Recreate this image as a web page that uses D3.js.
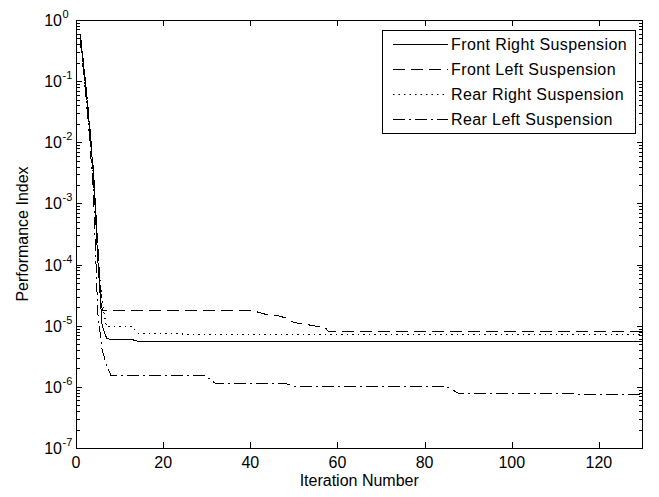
<!DOCTYPE html>
<html>
<head>
<meta charset="utf-8">
<script src="https://cdn.jsdelivr.net/npm/d3@7"></script>
<style>
  body { margin: 0; background: #fff; }
  svg { display: block; font-family: "Liberation Sans", Arial, sans-serif; }
</style>
</head>
<body>
<svg width="659" height="497"></svg>
<script>
// [iteration, performance index] breakpoints
const frontRight = [[1, 0.55], [2, 0.12], [3, 0.022], [4, 3e-3], [5, 1.2e-4], [6, 1.0e-5],
  [7, 6.3e-6], [8, 5.9e-6], [13, 5.9e-6], [14, 5.6e-6], [130, 5.6e-6]];
const frontLeft = [[1, 0.6], [2, 0.13], [3, 0.025], [4, 3.5e-3], [5, 2e-4], [6, 1.8e-5],
  [40, 1.8e-5], [42, 1.65e-5], [44, 1.5e-5], [46, 1.48e-5], [48, 1.35e-5], [50, 1.12e-5],
  [53, 1.07e-5], [54, 1.0e-5], [57, 9.6e-6], [58, 8.0e-6], [130, 8.0e-6]];
const rearRight = [[1, 0.5], [2, 0.1], [3, 0.02], [4, 2.5e-3], [5, 1.5e-4], [6, 2.4e-5],
  [7, 9.6e-6], [13, 9.6e-6], [14, 7.5e-6], [24, 7.5e-6], [25, 7.1e-6], [130, 7.1e-6]];
const rearLeft = [[1, 0.45], [2, 0.09], [3, 0.015], [4, 1.5e-3], [5, 1.6e-5], [6, 4e-6],
  [7, 2.3e-6], [8, 1.56e-6], [29, 1.56e-6], [30, 1.45e-6], [32, 1.14e-6], [48, 1.14e-6],
  [50, 1.03e-6], [51, 1.0e-6], [85, 1.0e-6], [86, 9.3e-7], [88, 7.7e-7], [130, 7.6e-7]];

const seriesNames = ['Front Right Suspension', 'Front Left Suspension', 'Rear Right Suspension', 'Rear Left Suspension'];
const dashes = [null, '12,6', '1.5,4', '12,4,2,4'];
const xTicks = [0, 20, 40, 60, 80, 100, 120];
const yExps = [0, -1, -2, -3, -4, -5, -6, -7];

const svg = d3.select('svg');
const m = { left: 76, right: 642.5, top: 20, bottom: 448 };

const x = d3.scaleLinear().domain([0, 130]).range([m.left, m.right]);
const y = d3.scaleLog().domain([1e-7, 1]).range([m.bottom, m.top]);

const decades = yExps.map(e => Math.pow(10, e));
const minors = [];
for (let e = -7; e < 0; e++) {
  for (let k = 2; k <= 9; k++) minors.push(k * Math.pow(10, e));
}

function tidy(g) {
  g.select('.domain').remove();
  g.selectAll('line').attr('stroke', '#000').attr('shape-rendering', 'crispEdges');
  g.selectAll('text').remove();
}

// inward ticks on all four sides
svg.append('g').attr('transform', `translate(0,${m.bottom})`)
  .call(d3.axisTop(x).tickValues(xTicks).tickSize(6)).call(tidy);
svg.append('g').attr('transform', `translate(0,${m.top})`)
  .call(d3.axisBottom(x).tickValues(xTicks).tickSize(6)).call(tidy);
svg.append('g').attr('transform', `translate(${m.left},0)`)
  .call(d3.axisRight(y).tickValues(decades).tickSize(6)).call(tidy);
svg.append('g').attr('transform', `translate(${m.left},0)`)
  .call(d3.axisRight(y).tickValues(minors).tickSize(4)).call(tidy);
svg.append('g').attr('transform', `translate(${m.right},0)`)
  .call(d3.axisLeft(y).tickValues(decades).tickSize(6)).call(tidy);
svg.append('g').attr('transform', `translate(${m.right},0)`)
  .call(d3.axisLeft(y).tickValues(minors).tickSize(4)).call(tidy);

svg.append('rect')
  .attr('x', m.left).attr('y', m.top)
  .attr('width', m.right - m.left).attr('height', m.bottom - m.top)
  .attr('fill', 'none').attr('stroke', '#000').attr('shape-rendering', 'crispEdges');

// tick labels
svg.selectAll('.xl')
  .data(xTicks)
  .enter()
  .append('text')
  .attr('x', d => x(d))
  .attr('y', 468)
  .attr('text-anchor', 'middle')
  .style('font-size', '16px')
  .text(d => d);

const yl = svg.selectAll('.yl')
  .data(yExps)
  .enter()
  .append('g')
  .attr('transform', d => `translate(0,${y(Math.pow(10, d))})`);
yl.append('text')
  .attr('x', 62).attr('y', 6)
  .attr('text-anchor', 'end')
  .style('font-size', '16px')
  .text('10');
yl.append('text')
  .attr('x', 62.5).attr('y', -2)
  .style('font-size', '11px')
  .text(d => d === 0 ? '0' : '-' + Math.abs(d));

// axis titles
svg.append('text')
  .attr('x', (m.left + m.right) / 2).attr('y', 486)
  .attr('text-anchor', 'middle')
  .style('font-size', '16px')
  .text('Iteration Number');
svg.append('text')
  .attr('transform', `translate(28,${(m.top + m.bottom) / 2}) rotate(-90)`)
  .attr('text-anchor', 'middle')
  .style('font-size', '16px')
  .text('Performance Index');

// lines
const line = d3.line().x(d => x(d[0])).y(d => y(d[1]));
[frontRight, frontLeft, rearRight, rearLeft].forEach((s, i) => {
  svg.append('path')
    .datum(s)
    .attr('d', line)
    .attr('fill', 'none')
    .attr('stroke', '#000')
    .attr('stroke-width', 1)
    .attr('shape-rendering', 'crispEdges')
    .attr('stroke-dasharray', dashes[i]);
});

// legend
const lg = svg.append('g');
lg.append('rect')
  .attr('x', 382.5).attr('y', 30.5).attr('width', 253).attr('height', 103)
  .attr('fill', '#fff').attr('stroke', '#000');
seriesNames.forEach((name, i) => {
  const cy = 44.5 + i * 25;
  lg.append('line')
    .attr('x1', 393).attr('x2', 448).attr('y1', cy).attr('y2', cy)
    .attr('stroke', '#000')
    .attr('stroke-dasharray', dashes[i]);
  lg.append('text')
    .attr('x', 451).attr('y', cy + 5.5)
    .style('font-size', '16px')
    .style('letter-spacing', '0.4px')
    .text(name);
});
</script>
</body>
</html>
